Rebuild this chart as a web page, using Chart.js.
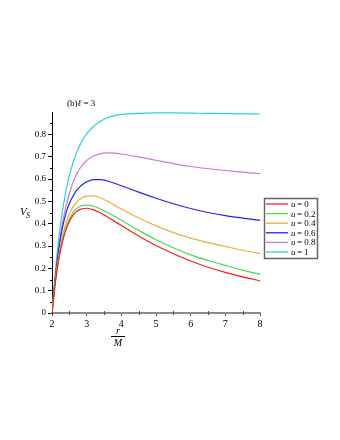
<!DOCTYPE html>
<html lang="en">
<head>
    <meta charset="UTF-8">
    <title>V_S for l = 3</title>
    <script src="https://cdn.jsdelivr.net/npm/chart.js"></script>
    <style>
        body {
            margin: 0;
            padding: 0;
            background: #fff;
        }
        #wrap {
            width: 340px;
            height: 440px;
        }
    </style>
</head>
<body>
    <div id="wrap"><canvas id="grafico"></canvas></div>

    <script>
        // r/M sample points and V_S values
        const rValues = [2, 2.1, 2.2, 2.3, 2.4, 2.5, 2.6, 2.7, 2.8, 2.9, 3.0, 3.2, 3.4, 3.6, 3.8, 4.0, 4.5, 5, 5.5, 6, 6.5, 7, 7.5, 8];
        const vU0 = [0, 0.14, 0.243, 0.317, 0.371, 0.41, 0.436, 0.453, 0.463, 0.468, 0.469, 0.462, 0.448, 0.430, 0.411, 0.392, 0.345, 0.302, 0.265, 0.233, 0.205, 0.182, 0.162, 0.144];
        const vU02 = [0, 0.145, 0.25, 0.326, 0.381, 0.42, 0.448, 0.466, 0.477, 0.482, 0.483, 0.478, 0.466, 0.450, 0.433, 0.415, 0.370, 0.328, 0.292, 0.260, 0.235, 0.213, 0.192, 0.174];
        const vU04 = [0, 0.15, 0.26, 0.34, 0.40, 0.443, 0.474, 0.494, 0.508, 0.518, 0.523, 0.524, 0.515, 0.500, 0.483, 0.466, 0.425, 0.390, 0.360, 0.335, 0.315, 0.298, 0.281, 0.266];
        const vU06 = [0, 0.165, 0.29, 0.38, 0.445, 0.49, 0.522, 0.547, 0.565, 0.578, 0.587, 0.597, 0.597, 0.591, 0.581, 0.570, 0.541, 0.514, 0.489, 0.468, 0.450, 0.436, 0.425, 0.415];
        const vU08 = [0, 0.17, 0.30, 0.40, 0.475, 0.535, 0.582, 0.618, 0.646, 0.667, 0.683, 0.703, 0.714, 0.717, 0.716, 0.712, 0.699, 0.684, 0.669, 0.656, 0.646, 0.638, 0.631, 0.624];
        const vU1 = [0, 0.19, 0.34, 0.455, 0.545, 0.615, 0.67, 0.714, 0.75, 0.779, 0.802, 0.836, 0.859, 0.874, 0.884, 0.889, 0.894, 0.896, 0.896, 0.895, 0.894, 0.893, 0.892, 0.891];

        const uLabels = ["0", "0.2", "0.4", "0.6", "0.8", "1"];
        const colores = ["#ff1a1a", "#4fd84f", "#e6b03c", "#2323f0", "#c47ada", "#2ed0d0"];
        const series = [vU0, vU02, vU04, vU06, vU08, vU1];

        const xTicks = [2, 3, 4, 5, 6, 7, 8];
        const yTicks = [0, 0.1, 0.2, 0.3, 0.4, 0.5, 0.6, 0.7, 0.8];

        const serif = "'Liberation Serif', 'Times New Roman', serif";

        let datasets = series.map((vals, i) => ({
            label: "u = " + uLabels[i],
            data: vals.map((v, k) => ({ x: rValues[k], y: v })),
            borderColor: colores[i],
            borderWidth: 1.2,
            pointRadius: 0,
            fill: false,
            cubicInterpolationMode: "monotone"
        }));

        // minor ticks, axis labels, title and the boxed legend
        const extras = {
            id: "extras",
            afterDraw(chart) {
                const ctx = chart.ctx;
                const xs = chart.scales.x;
                const ys = chart.scales.y;
                const area = chart.chartArea;
                ctx.save();

                // minor ticks
                ctx.strokeStyle = "#000";
                ctx.lineWidth = 1;
                for (let v = 0.05; v < 0.9; v += 0.1) {
                    let py = Math.round(ys.getPixelForValue(v)) + 0.5;
                    ctx.beginPath();
                    ctx.moveTo(area.left - 2, py);
                    ctx.lineTo(area.left, py);
                    ctx.stroke();
                }
                ctx.strokeStyle = "#555";
                for (let v = 2.5; v < 8; v += 1) {
                    let px = Math.round(xs.getPixelForValue(v)) + 0.5;
                    ctx.beginPath();
                    ctx.moveTo(px, area.bottom - 2);
                    ctx.lineTo(px, area.bottom + 2);
                    ctx.stroke();
                }

                // title
                ctx.fillStyle = "#000";
                ctx.textBaseline = "alphabetic";
                ctx.textAlign = "left";
                let tx = 67;
                ctx.font = "9px " + serif;
                ctx.fillText("(b)", tx, 106);
                tx += ctx.measureText("(b)").width;
                ctx.font = "italic 9px " + serif;
                ctx.fillText("ℓ", tx, 106);
                tx += ctx.measureText("ℓ").width;
                ctx.font = "9px " + serif;
                ctx.fillText(" = 3", tx, 106);

                // y label V_S
                ctx.font = "italic 11px " + serif;
                ctx.fillText("V", 20, 215);
                ctx.font = "italic 8px " + serif;
                ctx.fillText("S", 26, 218);

                // x label r/M
                let cx = 118;
                ctx.textAlign = "center";
                ctx.font = "italic 10px " + serif;
                ctx.fillText("r", cx, 334);
                ctx.beginPath();
                ctx.moveTo(cx - 7, 336.5);
                ctx.lineTo(cx + 7, 336.5);
                ctx.strokeStyle = "#000";
                ctx.stroke();
                ctx.fillText("M", cx, 346);

                // legend
                ctx.strokeStyle = "#666";
                ctx.lineWidth = 1.5;
                ctx.strokeRect(264.5, 198.5, 53, 60);
                ctx.textAlign = "left";
                datasets.forEach((ds, i) => {
                    let y = 204 + i * 9.6;
                    ctx.strokeStyle = ds.borderColor;
                    ctx.lineWidth = 1.3;
                    ctx.beginPath();
                    ctx.moveTo(266, y);
                    ctx.lineTo(288, y);
                    ctx.stroke();
                    ctx.fillStyle = "#000";
                    ctx.font = "italic 9px " + serif;
                    ctx.fillText("u", 291, y + 3);
                    ctx.font = "9px " + serif;
                    ctx.fillText("= " + uLabels[i], 297, y + 3);
                });
                ctx.restore();
            }
        };

        let ctx = document.getElementById("grafico").getContext("2d");
        window.miGrafico = new Chart(ctx, {
            type: "line",
            data: { datasets: datasets },
            options: {
                responsive: true,
                maintainAspectRatio: false,
                animation: false,
                layout: { padding: { left: 0, top: 112, right: 80, bottom: 0 } },
                plugins: {
                    legend: { display: false },
                    tooltip: { enabled: false }
                },
                scales: {
                    x: {
                        type: "linear",
                        min: 2,
                        max: 8,
                        afterFit: s => { s.height = 127; },
                        afterBuildTicks: s => { s.ticks = xTicks.map(v => ({ value: v })); },
                        border: { display: true, color: "#8a8a8a", width: 2 },
                        grid: { display: true, drawOnChartArea: false, tickLength: 3, color: "#555" },
                        ticks: { padding: 2, color: "#000", font: { family: serif, size: 10 } }
                    },
                    y: {
                        min: 0,
                        max: 0.9,
                        afterFit: s => { s.width = 52; },
                        afterBuildTicks: s => { s.ticks = yTicks.map(v => ({ value: v })); },
                        border: { display: true, color: "#000", width: 1 },
                        grid: { display: true, drawOnChartArea: false, tickLength: 4, color: "#000" },
                        ticks: { padding: 2, color: "#000", font: { family: serif, size: 9 } }
                    }
                }
            },
            plugins: [extras]
        });
    </script>
</body>
</html>
